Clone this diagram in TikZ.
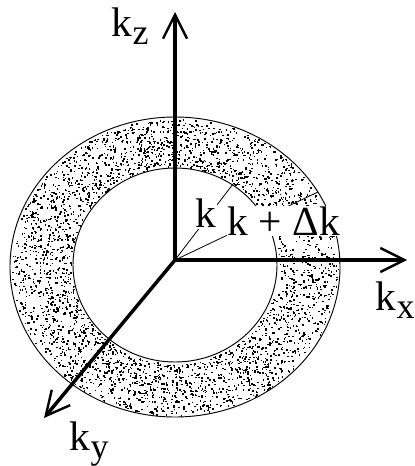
\documentclass[tikz,border=0pt]{standalone}
\usepackage{fontspec}
\setmainfont{Liberation Serif}
\usetikzlibrary{arrows.meta}
\tikzset{
  axis/.style={line width=2.6pt, -{Straight Barb[length=18pt,width=18pt,line width=1.8pt]}},
  rim/.style={line width=0.7pt},
  radius/.style={line width=0.6pt},
  klabel/.style={anchor=base west, inner sep=0.5pt, font=\fontsize{31}{36}\selectfont},
}
\newcommand{\ksub}[1]{k\raisebox{-6pt}{\fontsize{27}{30}\selectfont #1}}
\begin{document}
\begin{tikzpicture}[x=0.75pt,y=-0.75pt]
  \useasboundingbox (0,0) rectangle (414,466);
  \coordinate (O) at (175,260);
  \coordinate (Z) at (175,12);
  \coordinate (X) at (407,260);
  \coordinate (Y) at (44,418);
  \coordinate (R1) at (233,184);
  \coordinate (R2) at (318,192);

  % Anillo punteado
  \pgfmathsetseed{7}
  \foreach \i in {1,...,3400}{
    \pgfmathsetmacro{\ang}{360*rnd}
    \pgfmathsetmacro{\t}{0.03+0.94*rnd}
    \fill ({175+(102+63*\t)*cos(\ang)},{265+2*\t+(97+53*\t)*sin(\ang)}) rectangle ++(1.5,1.5);
  }
  \draw[rim] (175,267) ellipse (165 and 150);
  \draw[rim] (175,265) ellipse (102 and 97);

  % Radios
  \draw[radius] (O) -- (R1);
  \draw[radius] (O) -- (R2);

  % Etiquetas
  \node[klabel, fill=white] (k) at (195,228) {k};
  \node[klabel, fill=white] (kdk) at (227,235) {k + Δk};

  % Ejes
  \draw[axis] (O) -- (Z);
  \draw[axis] (O) -- (X);
  \draw[axis] (O) -- (Y);
  \fill (O) circle (2.2);

  \node[klabel] (kz) at (111,37) {\ksub{z}};
  \node[klabel] (kx) at (375,310) {\ksub{x}};
  \node[klabel] (ky) at (69,450) {\ksub{y}};
\end{tikzpicture}
\end{document}
